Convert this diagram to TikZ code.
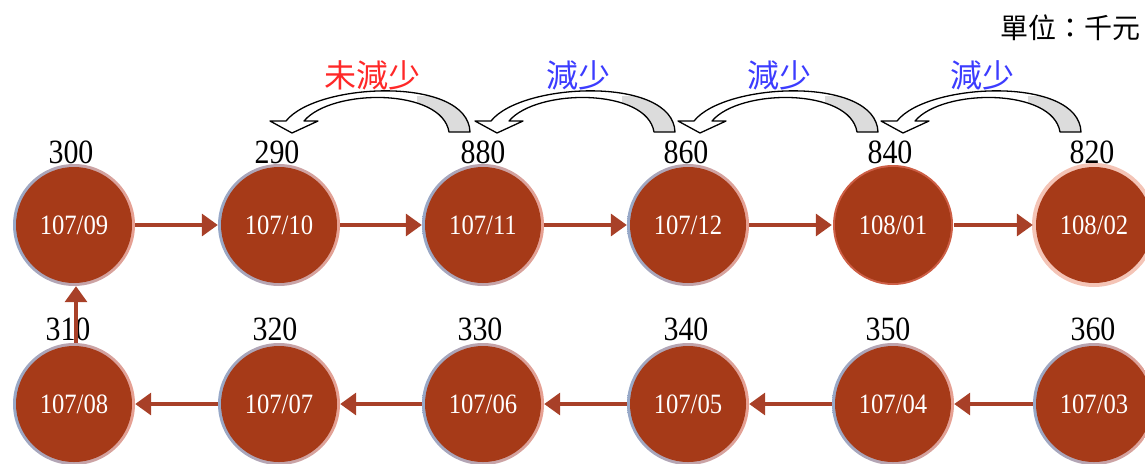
\documentclass[tikz,border=0pt]{standalone}
\usepackage{fontspec}
\setmainfont{Liberation Serif}
\newfontfamily\numfont[FakeStretch=0.88]{Liberation Serif}
\newfontfamily\cjkfont{Noto Sans CJK TC}
\usetikzlibrary{arrows.meta}
\definecolor{circfill}{RGB}{166,58,24}
\definecolor{arrowc}{RGB}{168,64,40}
\definecolor{ringB}{RGB}{150,168,200}
\definecolor{ringP}{RGB}{232,160,145}
\definecolor{ringD}{RGB}{205,95,70}
\definecolor{ringL}{RGB}{244,196,182}
\definecolor{tailgray}{RGB}{220,220,220}
\definecolor{redtxt}{RGB}{255,40,40}
\definecolor{bluetxt}{RGB}{60,60,255}
\newcommand\bentpath{(-6,121) .. controls (25,82) and (176,76) .. (178,132) -- (157,132) .. controls (150,88) and (40,88) .. (12,121) -- (26,121) -- (0,133) -- (-22,121) -- cycle}
\newcommand\bentarrow[1]{%
  \begin{scope}[shift={(#1,0)}]
    \fill[white] \bentpath;
    \begin{scope}
      \clip \bentpath;
      \fill[tailgray] (125,96) rectangle (195,140);
    \end{scope}
    \draw[bendline] \bentpath;
  \end{scope}}
\begin{document}
\begin{tikzpicture}[x=1pt,y=-1pt,
  circ/.style={circle, fill=circfill, minimum size=116pt, inner sep=0pt, text=white,
    font=\numfont\fontsize{28}{32}\selectfont},
  val/.style={font=\numfont\fontsize{34}{38}\selectfont, inner sep=0pt},
  flow/.style={draw=arrowc, line width=3.5pt, -{Triangle[length=16pt,width=22pt]},
    shorten <=3pt, shorten >=3pt},
  cjk/.style={font=\cjkfont\fontsize{32}{36}\selectfont, inner sep=0pt},
  unit/.style={font=\cjkfont\fontsize{28}{32}\selectfont, inner sep=0pt},
  bendline/.style={draw=black, line width=1.3pt, line join=round},
  ringA/.style={left color=ringB, right color=ringP}
]
\useasboundingbox (0,0) rectangle (1145,463);

% rings
\foreach \x in {74,279,483,688} \shade[ringA] (\x,225) circle (61);
\fill[ringD] (893,225) circle (60);
\fill[ringL] (1094,225) circle (62);
\foreach \x in {74,279,483,688,893,1094} \shade[ringA] (\x,404) circle (61);

% top row
\node[circ] (m0709) at (74,225) {107/09};
\node[circ] (m0710) at (279,225) {107/10};
\node[circ] (m0711) at (483,225) {107/11};
\node[circ] (m0712) at (688,225) {107/12};
\node[circ] (m0801) at (893,225) {108/01};
\node[circ] (m0802) at (1094,225) {108/02};
% bottom row
\node[circ] (m0708) at (74,404) {107/08};
\node[circ] (m0707) at (279,404) {107/07};
\node[circ] (m0706) at (483,404) {107/06};
\node[circ] (m0705) at (688,404) {107/05};
\node[circ] (m0704) at (893,404) {107/04};
\node[circ] (m0703) at (1094,404) {107/03};

% values
\node[val] (v0709) at (71,152) {300};
\node[val] (v0710) at (277,152) {290};
\node[val] (v0711) at (483,152) {880};
\node[val] (v0712) at (686,152) {860};
\node[val] (v0801) at (890,152) {840};
\node[val] (v0802) at (1092,152) {820};
\node[val] (v0708) at (68,329) {310};
\node[val] (v0707) at (275,329) {320};
\node[val] (v0706) at (480,329) {330};
\node[val] (v0705) at (686,329) {340};
\node[val] (v0704) at (888,329) {350};
\node[val] (v0703) at (1093,329) {360};

% flow arrows
\draw[flow] (m0709) -- (m0710);
\draw[flow] (m0710) -- (m0711);
\draw[flow] (m0711) -- (m0712);
\draw[flow] (m0712) -- (m0801);
\draw[flow] (m0801) -- (m0802);
\draw[flow] (m0703) -- (m0704);
\draw[flow] (m0704) -- (m0705);
\draw[flow] (m0705) -- (m0706);
\draw[flow] (m0706) -- (m0707);
\draw[flow] (m0707) -- (m0708);
\draw[flow] ([xshift=2pt]m0708.north) -- ([xshift=2pt]m0709.south);

% bent arrows
\bentarrow{292}
\bentarrow{497}
\bentarrow{700}
\bentarrow{903}
\node[cjk, text=redtxt] (t1) at (372,75) {未減少};
\node[cjk, text=bluetxt] (t2) at (578,75) {減少};
\node[cjk, text=bluetxt] (t3) at (779,75) {減少};
\node[cjk, text=bluetxt] (t4) at (982,75) {減少};

\node[unit, anchor=east] (unit) at (1141,28) {單位：千元};
\end{tikzpicture}
\end{document}
